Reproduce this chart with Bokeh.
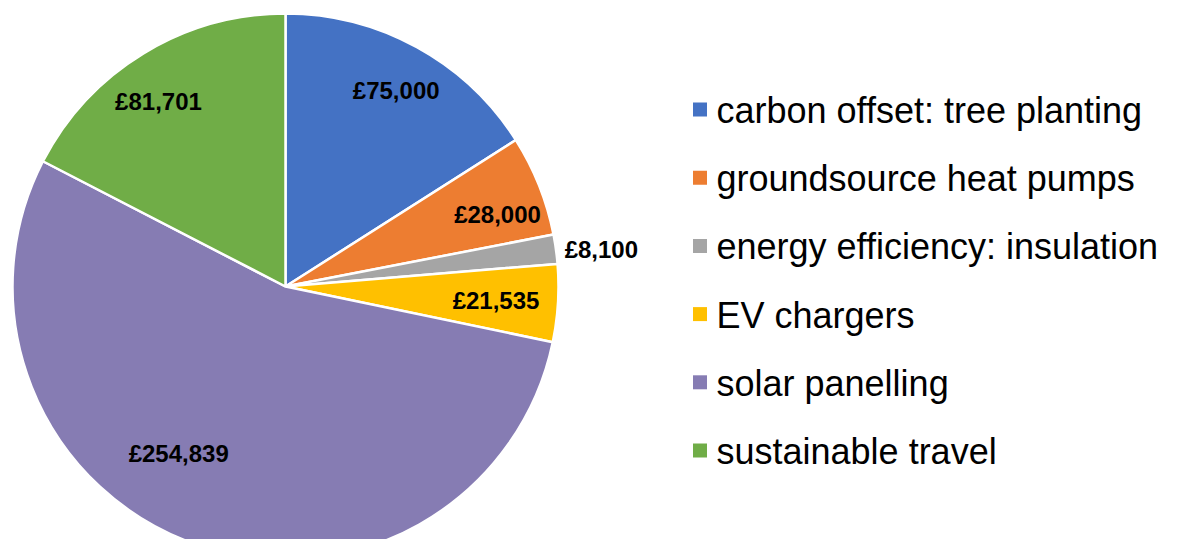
import numpy as np
from bokeh.plotting import figure
from bokeh.models import Range1d, ColumnDataSource
from bokeh.core.properties import value
from bokeh.embed import file_html
from bokeh.resources import INLINE

# ---- data ----
categories = ["carbon offset: tree planting", "groundsource heat pumps",
              "energy efficiency: insulation", "EV chargers",
              "solar panelling", "sustainable travel"]
amounts = [75000, 28000, 8100, 21535, 254839, 81701]
amount_labels = ["£75,000", "£28,000", "£8,100", "£21,535", "£254,839", "£81,701"]
colors = ["#4472C4", "#ED7D31", "#A5A5A5", "#FFC000", "#867CB3", "#70AD47"]

# ---- layout (pixel coordinates, y measured from bottom of a 555px picture) ----
W, H = 1165, 539
PAGE_H = 555
cx, cy_top = 285, 286
cy = PAGE_H - cy_top
R = 273

# label placement: radius and angle nudge (degrees) per slice
label_r = [225, 224, 318, 211, 198, 224]
label_nudge = [0.7, 2.9, 1.2, 0.3, 13.1, -3.2]

vals = np.array(amounts, dtype=float)
frac = vals / vals.sum()
cum_end = np.cumsum(frac)
cum_start = cum_end - frac
start_angle = np.pi / 2 - 2 * np.pi * cum_end
end_angle = np.pi / 2 - 2 * np.pi * cum_start
mid_deg = (cum_start + cum_end) / 2 * 360 + np.array(label_nudge)
lx = cx + np.array(label_r) * np.sin(np.radians(mid_deg))
ly = cy + np.array(label_r) * np.cos(np.radians(mid_deg))

p = figure(width=W, height=H, output_backend="svg", toolbar_location=None,
           x_range=Range1d(0, W), y_range=Range1d(PAGE_H - H, PAGE_H),
           min_border=0, outline_line_color=None)
p.axis.visible = False
p.grid.visible = False
p.background_fill_color = "white"
p.border_fill_color = "white"

src = ColumnDataSource(dict(start=start_angle, end=end_angle, color=colors,
                            lx=lx, ly=ly, lab=amount_labels))
p.wedge(x=cx, y=cy, radius=R, radius_units="screen", start_angle="start",
        end_angle="end", direction="anticlock", fill_color="color",
        line_color="white", line_width=2.5, source=src)

p.text(x="lx", y="ly", text="lab", source=src, text_font=value("Liberation Sans"),
       text_font_style="bold", text_font_size="24px", text_color="black",
       text_align="center", text_baseline="middle")

# legend
row0, step = 109, 68.2
rows = np.arange(len(categories))
leg_y = PAGE_H - (row0 + step * rows)
leg_src = ColumnDataSource(dict(y=leg_y, yt=leg_y - 1, color=colors, name=categories))
p.scatter(x=699.5, y="y", marker="square", size=14, fill_color="color",
          line_color=None, source=leg_src)
p.text(x=716, y="yt", text="name", source=leg_src, text_font=value("Liberation Sans"),
       text_font_size="36px", text_color="black", text_align="left",
       text_baseline="middle")

open("out.html", "w").write(file_html(p, INLINE))
